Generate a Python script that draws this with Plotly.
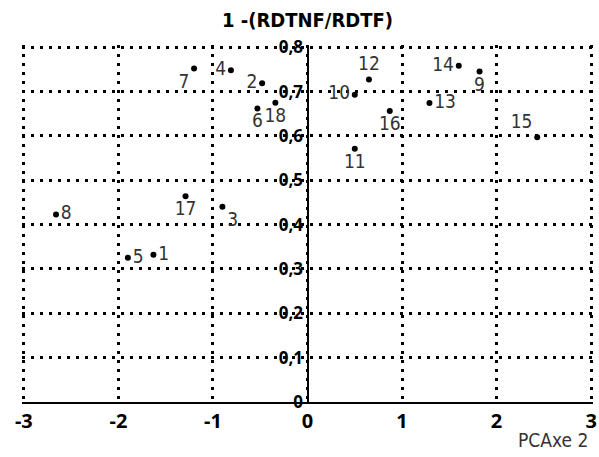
import plotly.graph_objects as go

labels = ["1", "2", "3", "4", "5", "6", "7", "8", "9", "10",
          "11", "12", "13", "14", "15", "16", "17", "18"]
pc_axe2 = [-1.63, -0.48, -0.90, -0.81, -1.90, -0.53, -1.20, -2.66, 1.82, 0.50,
           0.50, 0.65, 1.29, 1.60, 2.43, 0.87, -1.29, -0.34]
ratio = [0.332, 0.719, 0.440, 0.748, 0.325, 0.662, 0.752, 0.423, 0.745, 0.693,
         0.571, 0.727, 0.674, 0.758, 0.597, 0.656, 0.464, 0.675]
label_pos = ["middle right", "middle left", "bottom right", "middle left", "middle right",
             "bottom center", "bottom left", "middle right", "bottom center", "middle left",
             "bottom center", "top center", "middle right", "middle left", "top left",
             "bottom center", "bottom center", "bottom center"]

x_ticks = [-3, -2, -1, 0, 1, 2, 3]
y_ticks = [0, 0.1, 0.2, 0.3, 0.4, 0.5, 0.6, 0.7, 0.8]
y_ticktext = ["0", "0,1", "0,2", "0,3", "0,4", "0,5", "0,6", "0,7", "0,8"]

F1 = "DejaVu Sans Condensed"
F2 = "Noto Sans"

fig = go.Figure(go.Scatter(
    x=pc_axe2, y=ratio, mode="markers+text", text=labels,
    textposition=label_pos,
    textfont=dict(family=F1, size=19, color="#333333"),
    marker=dict(color="black", size=6),
    cliponaxis=False, showlegend=False,
))

fig.update_layout(
    width=599, height=457,
    margin=dict(l=22, r=2, t=45, b=55),
    paper_bgcolor="white", plot_bgcolor="white",
    title=dict(text="1 -(RDTNF/RDTF)", x=0.5, xref="paper", y=1 - 20 / 457,
               yanchor="middle", xanchor="center",
               font=dict(family=F1, size=20, color="black", weight="bold")),
    xaxis=dict(range=[-3.02, 3.02], tickvals=x_ticks, ticktext=[str(v) for v in x_ticks],
               showgrid=True, gridcolor="black", gridwidth=3, griddash="3px,6px",
               zeroline=False, showline=True, linecolor="black", linewidth=2,
               ticklabeloverflow="allow",
               ticks="", tickfont=dict(family=F2, size=20, color="black", weight="bold")),
    yaxis=dict(range=[0, 0.805], tickvals=y_ticks, ticktext=y_ticktext,
               anchor="free", position=0.5,
               showgrid=True, gridcolor="black", gridwidth=3, griddash="3px,6px",
               zeroline=False, showline=True, linecolor="black", linewidth=2,
               ticks="", tickfont=dict(family=F2, size=17, color="black", weight="bold")),
    annotations=[dict(text="PCAxe 2", xref="paper", yref="paper", x=0.93, y=-0.107,
                      xanchor="center", yanchor="middle", showarrow=False,
                      font=dict(family=F1, size=19, color="#333333"))],
)

js = ("document.body.style.margin='0px';"
      "document.querySelectorAll('.xtick text, .ytick text').forEach(function(t){t.style.fontStretch='condensed';});")
fig.write_html("out.html", post_script=js, config={"displayModeBar": False})
